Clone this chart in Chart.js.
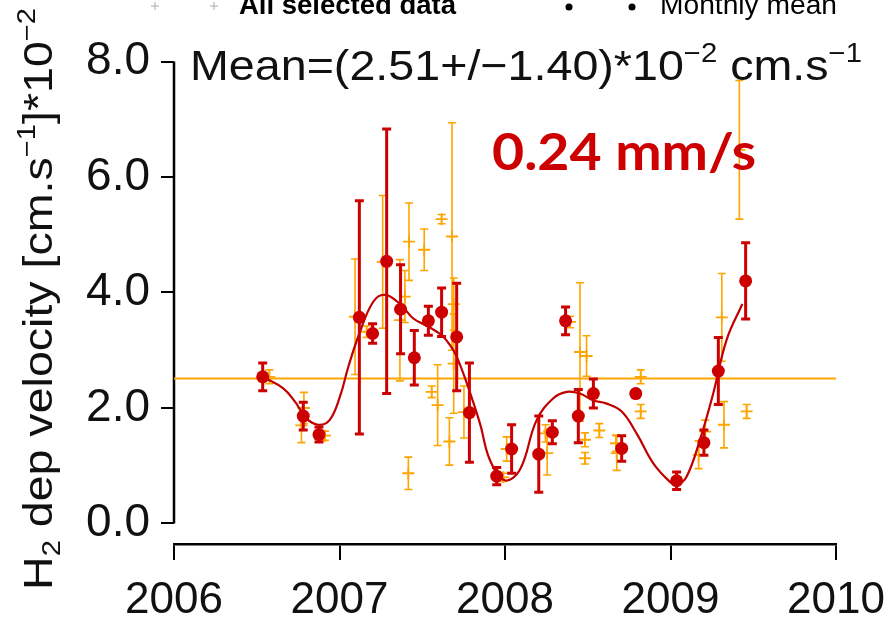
<!DOCTYPE html>
<html><head><meta charset="utf-8">
<script src="https://cdn.jsdelivr.net/npm/chart.js@4.4.1/dist/chart.umd.min.js"></script>
<style>html,body{margin:0;padding:0;background:#fff}</style>
</head><body>
<canvas id="c" width="893" height="619"></canvas>
<script>
// ---- Data ----
const monthX   = [2006.536,2006.781,2006.876,2007.12,2007.20,2007.285,2007.369,2007.452,2007.537,2007.617,2007.708,2007.785,2007.95,2008.04,2008.204,2008.286,2008.366,2008.443,2008.534,2008.705,2008.79,2009.037,2009.202,2009.289,2009.454];
const monthY   = [2.54,1.86,1.54,3.57,3.29,4.54,3.71,2.87,3.51,3.66,3.23,1.92,0.82,1.29,1.20,1.58,3.51,1.86,2.25,1.30,2.25,0.74,1.40,2.64,4.20];
const monthErr = [0.24,0.24,0.13,2.02,0.17,2.29,0.77,0.47,0.25,0.42,0.93,0.86,0.15,0.42,0.66,0.20,0.24,0.46,0.25,0.22,0.05,0.15,0.22,0.58,0.66];

const allX   = [2006.576,2006.77,2006.785,2006.912,2007.094,2007.164,2007.261,2007.365,2007.395,2007.42,2007.512,2007.557,2007.593,2007.617,2007.664,2007.68,2007.69,2007.69,2007.416,2007.752,2007.99,2008.01,2008.245,2008.255,2008.393,2008.453,2008.493,2008.483,2008.483,2008.57,2008.67,2008.675,2008.82,2008.82,2009.17,2009.21,2009.31,2009.323,2009.416,2009.46];
const allY   = [2.54,1.70,2.00,1.52,3.58,3.32,4.53,3.52,3.93,4.88,4.74,2.28,2.05,5.27,1.42,4.97,3.80,2.77,0.87,1.93,0.80,1.29,1.56,1.22,3.49,2.97,2.90,1.45,1.13,1.61,1.39,1.22,2.54,1.94,1.19,1.59,3.57,1.71,6.47,1.94];
const allErr = [0.12,0.30,0.27,0.08,1.00,0.10,1.15,1.05,0.45,0.67,0.36,0.10,0.70,0.08,0.41,1.97,0.45,0.86,0.28,0.45,0.07,0.21,0.15,0.38,0.10,1.20,0.35,0.12,0.10,0.12,0.14,0.30,0.12,0.12,0.24,0.20,0.76,0.40,1.20,0.12];

const fitX = [2006.536,2006.66,2006.731,2006.80,2006.872,2006.94,2007.003,2007.053,2007.12,2007.204,2007.275,2007.366,2007.446,2007.537,2007.617,2007.668,2007.708,2007.769,2007.849,2007.909,2007.999,2008.09,2008.191,2008.292,2008.373,2008.453,2008.534,2008.61,2008.705,2008.795,2008.896,2008.997,2009.037,2009.097,2009.178,2009.258,2009.339,2009.434];
const fitY = [2.54,2.34,2.11,1.82,1.71,1.79,2.20,2.71,3.29,3.84,3.96,3.80,3.55,3.41,3.26,3.09,2.89,2.43,1.73,1.10,0.75,0.93,1.79,2.17,2.28,2.25,2.13,2.08,1.94,1.56,1.04,0.72,0.67,0.81,1.45,2.25,3.18,3.80];

const meanValue = 2.51;
const xRange = [2006, 2010];
const xTicks = [2006, 2007, 2008, 2009, 2010];
const yTicks = [0, 2, 4, 6, 8];
const yTickLabels = ['0.0', '2.0', '4.0', '6.0', '8.0'];

const RED = '#CC0000', ORANGE = '#FFA500';
const FONT = "'Liberation Sans', Arial, sans-serif";

const pts = (xs, ys) => xs.map((x, i) => ({x, y: ys[i]}));
const errorSets = {
  'Monthly mean': {err: monthErr, color: RED, width: 3, cap: 4.5},
  'All selected data': {err: allErr, color: ORANGE, width: 1.6, cap: 4}
};

// rich text: segments [{t, s:'sub'|'sup'}]
function drawRich(ctx, segs, x, y, size, weight, family, targetW, color) {
  const fontFor = s => `${weight} ${s ? Math.round(size*0.62) : size}px ${family}`;
  let w = 0;
  segs.forEach(g => { ctx.font = fontFor(g.s); g.w = ctx.measureText(g.t).width; w += g.w; });
  const sx = targetW ? targetW / w : 1;
  ctx.save();
  ctx.translate(x, y);
  ctx.scale(sx, 1);
  ctx.fillStyle = color; ctx.textBaseline = 'alphabetic'; ctx.textAlign = 'left';
  let cx = 0;
  segs.forEach(g => {
    ctx.font = fontFor(g.s);
    const dy = g.s === 'sup' ? -size*0.42 : g.s === 'sub' ? size*0.2 : 0;
    ctx.fillText(g.t, cx, dy);
    cx += g.w;
  });
  ctx.restore();
}

const errorBarPlugin = {
  id: 'errbars',
  beforeDatasetDraw(chart, args) {
    const ds = chart.data.datasets[args.index];
    const e = errorSets[ds.label];
    if (!e) return;
    const {ctx, scales: {x, y}} = chart;
    ctx.save();
    ctx.strokeStyle = e.color; ctx.lineWidth = e.width; ctx.lineCap = 'butt';
    ds.data.forEach((p, i) => {
      const px = x.getPixelForValue(p.x);
      const t = y.getPixelForValue(p.y + e.err[i]);
      const b = y.getPixelForValue(p.y - e.err[i]);
      ctx.beginPath();
      ctx.moveTo(px, t); ctx.lineTo(px, b);
      ctx.moveTo(px - e.cap, t); ctx.lineTo(px + e.cap, t);
      ctx.moveTo(px - e.cap, b); ctx.lineTo(px + e.cap, b);
      ctx.stroke();
    });
    ctx.restore();
  }
};

const decorPlugin = {
  id: 'decor',
  beforeDatasetsDraw(chart) {
    const {ctx, scales: {x, y}} = chart;
    ctx.save();
    ctx.strokeStyle = '#000'; ctx.lineWidth = 2.5;
    ctx.beginPath();
    ctx.moveTo(chart.chartArea.left, y.getPixelForValue(yTicks[0]));
    ctx.lineTo(chart.chartArea.left, y.getPixelForValue(yTicks[yTicks.length-1]));
    ctx.stroke();
    ctx.restore();
  },
  afterDraw(chart) {
    const ctx = chart.ctx;
    // legend (partly cut by the top edge)
    ctx.save();
    ctx.strokeStyle = '#aaa'; ctx.lineWidth = 1;
    [155, 214].forEach(cx => {
      ctx.beginPath(); ctx.moveTo(cx-4, 6); ctx.lineTo(cx+4, 6); ctx.moveTo(cx, 2); ctx.lineTo(cx, 10); ctx.stroke();
    });
    ctx.fillStyle = '#000';
    [569, 632].forEach(cx => { ctx.beginPath(); ctx.arc(cx, 7, 3.5, 0, Math.PI*2); ctx.fill(); });
    ctx.restore();
    drawRich(ctx, [{t:'All selected data'}], 239, 14, 27, 'bold', FONT, 217, '#000');
    drawRich(ctx, [{t:'Monthly mean'}], 660, 14, 27, 'normal', FONT, 177, '#000');
    // mean annotation
    drawRich(ctx, [{t:'Mean=(2.51+/\u22121.40)*10'},{t:'\u22122',s:'sup'},{t:' cm.s'},{t:'\u22121',s:'sup'}],
      190, 80, 43, 'normal', FONT, 672, '#111');
    // big red annotation
    drawRich(ctx, [{t:'0.24 mm/s'}], 492, 170, 52, 'bold', "Lato, 'Open Sans', sans-serif", 264, RED);
    // y axis title
    ctx.save();
    ctx.translate(52, 590);
    ctx.rotate(-Math.PI/2);
    drawRich(ctx, [{t:'H'},{t:'2',s:'sub'},{t:' dep velocity [cm.s'},{t:'\u22121',s:'sup'},{t:']*10'},{t:'\u22122',s:'sup'}],
      0, 0, 40, 'normal', FONT, 582, '#111');
    ctx.restore();
  }
};

new Chart(document.getElementById('c'), {
  data: {
    datasets: [
      {type:'scatter', label:'Monthly mean', data: pts(monthX, monthY), order: 1,
       pointStyle:'circle', pointRadius: 6.5, pointBackgroundColor: RED, pointBorderColor: RED, pointBorderWidth: 0},
      {type:'line', label:'fit', data: pts(fitX, fitY), order: 2,
       borderColor:'#C00000', borderWidth: 2.2, pointRadius: 0, tension: 0.4, fill: false},
      {type:'scatter', label:'All selected data', data: pts(allX, allY), order: 3,
       pointStyle:'cross', pointRadius: 6, pointBorderColor: ORANGE, pointBorderWidth: 1.8},
      {type:'line', label:'mean', data: [{x:xRange[0], y:meanValue},{x:xRange[1], y:meanValue}], order: 4,
       borderColor: ORANGE, borderWidth: 2, pointRadius: 0}
    ]
  },
  options: {
    responsive: false, animation: false, devicePixelRatio: 1,
    layout: {padding: {left: 0, right: 57, top: 61.5, bottom: 0}},
    plugins: {legend: {display: false}, tooltip: {enabled: false}},
    scales: {
      x: {type:'linear', position:'bottom', min: xRange[0], max: xRange[1],
          afterBuildTicks: s => { s.ticks = xTicks.map(v => ({value: v})); },
          afterFit: s => { s.height = 75; s.paddingLeft = 0; s.paddingRight = 0; },
          ticks: {callback: v => String(v), color:'#111', font:{family: FONT, size: 44}, padding: 14, maxRotation: 0, autoSkip: false},
          grid: {drawOnChartArea: false, drawTicks: true, tickLength: 16, color:'#000', lineWidth: 2},
          border: {display: true, color:'#000', width: 2.5}},
      y: {type:'linear', min: -0.355, max: 8,
          afterBuildTicks: s => { s.ticks = yTicks.map(v => ({value: v})); },
          afterFit: s => { s.width = 174; s.paddingTop = 0; s.paddingBottom = 0; },
          ticks: {callback: v => yTickLabels[yTicks.indexOf(v)], color:'#111', font:{family: FONT, size: 46}, padding: 11},
          grid: {drawOnChartArea: false, drawTicks: true, tickLength: 13, color:'#000', lineWidth: 2},
          border: {display: false}}
    }
  },
  plugins: [errorBarPlugin, decorPlugin]
});
</script>
</body></html>
